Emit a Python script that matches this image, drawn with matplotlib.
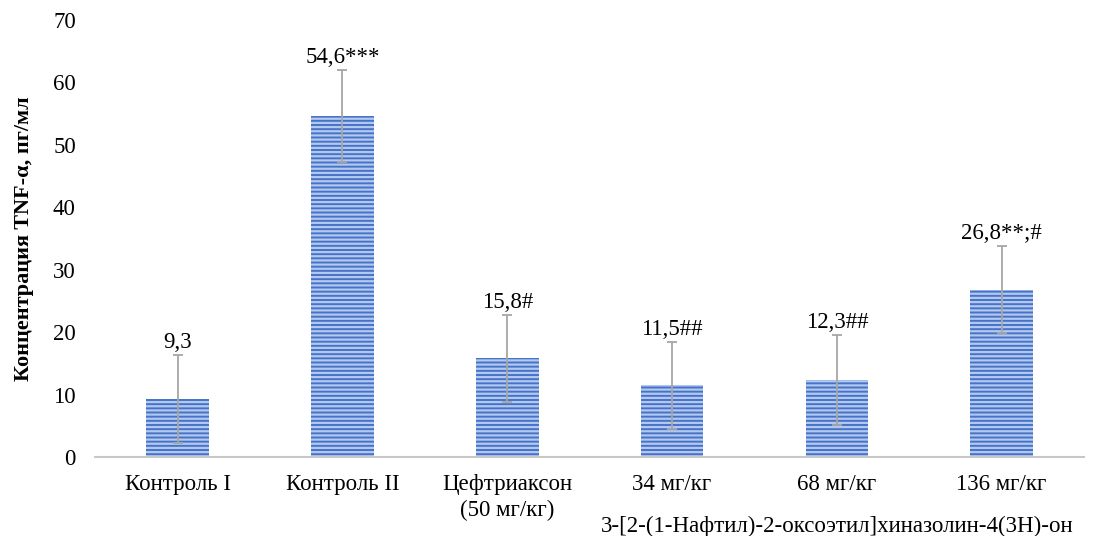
import numpy as np
import matplotlib.pyplot as plt
from matplotlib.transforms import blended_transform_factory

plt.rcParams['font.family'] = ['Liberation Serif', 'DejaVu Serif']
plt.rcParams['hatch.linewidth'] = 1.6

groups = ['Контроль I', 'Контроль II', 'Цефтриаксон\n(50 мг/кг)',
          '34 мг/кг', '68 мг/кг', '136 мг/кг']
values = [9.3, 54.6, 15.8, 11.5, 12.3, 26.8]
errors = [7.0, 7.4, 7.0, 7.0, 7.2, 7.0]
labels = ['9,3', '54,6***', '15,8#', '11,5##', '12,3##', '26,8**;#']
compound = '3-[2-(1-Нафтил)-2-оксоэтил]хиназолин-4(3H)-он'

fig = plt.figure(figsize=(10.95, 5.36), dpi=100)
ax = fig.add_axes([0.087, 0.147, 0.903, 0.816])

x = np.arange(len(groups))
bars = ax.bar(x, values, width=0.38, color='#4673c8', edgecolor='#b3c8ee',
              hatch='----', linewidth=0, zorder=2)
ax.errorbar(x, values, yerr=errors, fmt='none', ecolor='#a6a6a6',
            elinewidth=1.3, capsize=3.5, capthick=1.3, zorder=3)

for xi, v, e, lab in zip(x, values, errors, labels):
    ax.text(xi, v + e + 0.3, lab, ha='center', va='bottom', fontsize=16.5,
            zorder=4)

ax.set_xlim(-0.5, len(groups) - 0.5)
ax.set_ylim(0, 70)
ax.set_yticks(range(0, 71, 10))
ax.set_xticks(x)
ax.set_xticklabels(groups, fontsize=16.5, linespacing=1.3)
ax.tick_params(axis='y', labelsize=16.5, length=0, pad=14)
ax.tick_params(axis='x', length=0, pad=12)
for side in ['top', 'right', 'left']:
    ax.spines[side].set_visible(False)
ax.spines['bottom'].set_color('#c8c8c8')
ax.spines['bottom'].set_linewidth(1.5)

ax.set_ylabel('Концентрация TNF-α, пг/мл', fontsize=16, fontweight='bold',
              labelpad=14)

# group caption under the three dose columns
cap_tr = blended_transform_factory(ax.transData, fig.transFigure)
ax.text(4, 0.017, compound, transform=cap_tr,
        ha='center', va='center', fontsize=16.5)

fig.savefig('out.png', dpi=100)
